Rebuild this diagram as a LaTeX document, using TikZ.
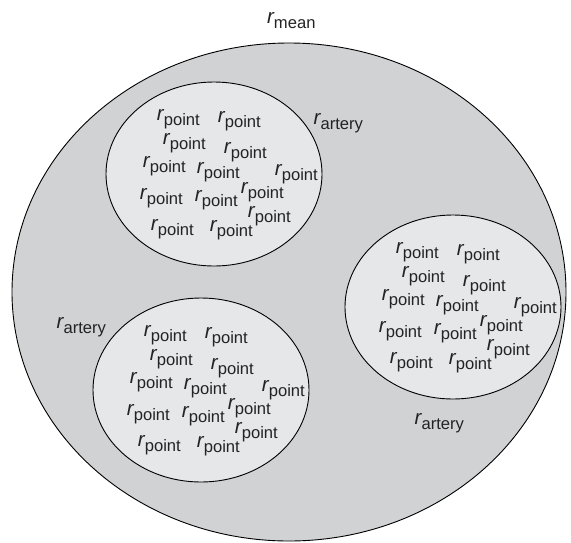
\documentclass[tikz,border=0pt]{standalone}
\usepackage{fontspec}
\setmainfont{Liberation Sans}
\usetikzlibrary{shapes.geometric}
\definecolor{outerfill}{RGB}{209,210,212}
\definecolor{innerfill}{RGB}{230,231,232}
\definecolor{txt}{RGB}{35,35,35}
\newcommand\rsym[1]{{\fontsize{20.5}{20}\selectfont\itshape r}\raisebox{-5pt}{\fontsize{16.6}{16}\selectfont #1}}
\tikzset{
  outerregion/.style={ellipse, draw=black, line width=0.9pt, fill=outerfill, inner sep=0pt,
    minimum width=554pt, minimum height=498pt},
  region/.style={ellipse, draw=black, line width=0.9pt, fill=innerfill, inner sep=0pt,
    minimum width=216pt, minimum height=184pt},
  lbl/.style={anchor=base east, inner sep=0pt, text=txt, yshift=0.7pt},
  ptlbl/.style={lbl, xshift=18pt},
  artlbl/.style={lbl, xshift=21.2pt},
  meanlbl/.style={lbl, xshift=20.7pt}
}
\newcommand\pointgroup[2]{%
  \begin{scope}[shift={(#2)}]
    \node[region] (#1) at (0,0) {};
    \foreach \i/\px/\py in {1/-32/-52.5, 2/29/-51, 3/-26/-28.5, 4/35/-20, 5/-46/-6,
        6/8/0, 7/86/2, 8/-49/26, 9/6/28, 10/52/20, 11/-38/57, 12/21/58, 13/59/44}
      \node[ptlbl] (#1-\i) at (\px,\py) {\rsym{point}};
  \end{scope}}
\begin{document}
\begin{tikzpicture}[x=1pt,y=-1pt]
\useasboundingbox (0,0) rectangle (571,542);
\node[outerregion] (outer) at (289,292) {};
\node[meanlbl] (rmean) at (295,24.5) {\rsym{mean}};
\pointgroup{top}{214,174}
\pointgroup{right}{453,307}
\pointgroup{left}{201,390}
\node[artlbl] (arttop) at (342,125) {\rsym{artery}};
\node[artlbl] (artleft) at (85,329) {\rsym{artery}};
\node[artlbl] (artright) at (443,425) {\rsym{artery}};
\end{tikzpicture}
\end{document}
